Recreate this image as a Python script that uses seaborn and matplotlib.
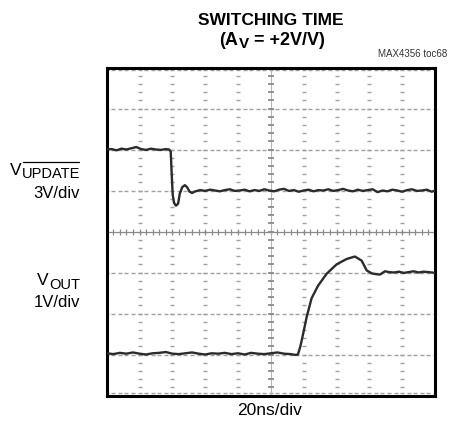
import matplotlib
matplotlib.use("Agg")
import matplotlib.pyplot as plt
from matplotlib import font_manager
from matplotlib.transforms import IdentityTransform
from matplotlib.lines import Line2D
import numpy as np
import pandas as pd
import seaborn as sns

# ---- scope traces: time in ns, level in screen divisions (0 = bottom) ----
t_update = [0, 3, 6, 9, 12, 15, 18, 21, 24, 27, 30, 33, 36, 38,
            39, 39.6, 40.2, 41, 42.2, 43.5, 44.5, 46, 47.6, 49, 50.5, 52,
            54, 57, 60, 63, 66, 69, 72, 75, 78, 81, 84, 87, 90, 93, 96, 99,
            102, 105, 108, 111, 114, 117, 120, 123, 126, 129, 132, 135, 138,
            141, 144, 147, 150, 153, 156, 159, 162, 165, 168, 171, 174, 177,
            180, 183, 186, 189, 192, 195, 198, 200]
v_update = [6.00, 6.01, 5.98, 6.02, 6.00, 6.03, 6.06, 6.01, 5.99, 6.02, 6.00, 5.99, 6.01, 6.00,
            5.95, 5.40, 4.90, 4.70, 4.63, 4.68, 4.92, 5.08, 5.13, 5.08, 4.97, 4.94,
            4.98, 5.01, 4.99, 5.02, 5.00, 4.98, 5.01, 5.03, 4.99, 5.00, 5.02, 4.98, 5.01, 4.99, 5.03, 5.00,
            4.98, 5.02, 5.04, 4.99, 5.01, 4.97, 5.00, 5.02, 4.98, 5.01, 5.00, 5.03, 4.99,
            5.01, 5.04, 5.00, 4.98, 5.02, 4.99, 5.01, 5.03, 4.96, 5.00, 4.98, 5.02, 5.00,
            4.97, 5.01, 5.03, 4.99, 5.00, 5.02, 4.97, 5.00]

t_out = [0, 4, 8, 12, 16, 20, 24, 28, 32, 36, 40, 44, 48, 52, 56, 60, 64, 68, 72,
         76, 80, 84, 88, 92, 96, 100, 104, 108, 112, 115, 116.5,
         118, 119.7, 121.8, 124.8, 128.8, 134, 140.1, 146.2, 151.2, 155.3, 158.4,
         161.4, 164, 166.5, 169.5, 172, 175, 178, 181, 184, 187, 190, 193, 196, 200]
v_out = [1.03, 1.01, 1.04, 1.02, 1.05, 1.02, 1.00, 1.03, 1.04, 1.06, 1.02, 1.01, 1.03, 1.05,
         1.02, 1.00, 1.03, 1.02, 1.04, 1.01, 1.03, 1.00, 1.04, 1.02, 1.01, 1.03, 1.05, 1.02,
         1.01, 0.99, 1.00,
         1.20, 1.51, 1.91, 2.37, 2.68, 2.97, 3.20, 3.33, 3.39, 3.29, 3.05,
         2.98, 2.96, 2.95, 3.03, 3.01, 3.00, 3.02, 2.99, 3.01, 3.03, 3.00, 3.02, 3.01, 2.99]

X_DIVS = [0, 20, 40, 60, 80, 100, 120, 140, 160, 180, 200]
Y_DIVS = [0, 1, 2, 3, 4, 5, 6, 7, 8]

sns.set_style("white")
available = {f.name for f in font_manager.fontManager.ttflist}
narrow = "Liberation Sans Narrow" if "Liberation Sans Narrow" in available else "Liberation Sans"
plt.rcParams["font.family"] = [narrow, "DejaVu Sans"]

W, H = 452, 429
fig = plt.figure(figsize=(W / 100, H / 100), dpi=100)
ax = fig.add_axes([106.7 / W, 1 - 395.5 / H, 328.3 / W, 328 / H])
ax.set_xlim(X_DIVS[0], X_DIVS[-1])
ax.set_ylim(Y_DIVS[0], Y_DIVS[-1])

# graticule: dotted division lines, ticked centre axes
minor_x = np.linspace(X_DIVS[0], X_DIVS[-1], 51)
minor_y = np.linspace(Y_DIVS[0], Y_DIVS[-1], 41)
grid_col = "#a0a0a0"
for gy in Y_DIVS[1:-1]:
    if gy == 4:
        continue
    ax.plot(minor_x, np.full_like(minor_x, gy), ls="none", marker="_", ms=2.6,
            mew=1.0, color=grid_col, zorder=1)
for gy in (0.07, 7.93):
    ax.plot(minor_x, np.full_like(minor_x, gy), ls="none", marker="_", ms=2.6,
            mew=1.0, color=grid_col, zorder=1)
for gx in X_DIVS[1:-1]:
    if gx == 100:
        continue
    ax.plot(np.full_like(minor_y, gx), minor_y, ls="none", marker="_", ms=2.6,
            mew=1.0, color=grid_col, zorder=1)
ax.axhline(4, color="#8a8a8a", lw=0.9, zorder=1)
ax.plot(minor_x, np.full_like(minor_x, 4), ls="none", marker="|", ms=4.5,
        mew=0.9, color="#8a8a8a", zorder=1)
ax.axvline(100, color="#b5b5b5", lw=0.8, zorder=1)
ax.plot(np.full_like(minor_y, 100), minor_y, ls="none", marker="_", ms=5,
        mew=1.3, color="#8a8a8a", zorder=1)

traces = pd.concat([
    pd.DataFrame({"t": t_update, "v": v_update, "ch": "update"}),
    pd.DataFrame({"t": t_out, "v": v_out, "ch": "out"}),
])
for ch, d in traces.groupby("ch"):
    sns.lineplot(data=d, x="t", y="v", ax=ax, color="#2b2b2b", lw=1.7,
                 estimator=None, sort=False, zorder=3)

ax.set_xticks([])
ax.set_yticks([])
ax.set_xlabel("")
ax.set_ylabel("")
for s in ax.spines.values():
    s.set_visible(True)
    s.set_linewidth(2.2)
    s.set_color("black")

renderer = fig.canvas.get_renderer()
ident = IdentityTransform()


def text_row(parts, x, y, ha="center", family=None, color="black"):
    """Lay out text pieces on one baseline; y is measured from the top in px."""
    objs = []
    for s, size, weight, dy, over in parts:
        kw = {} if family is None else {"family": family}
        t = fig.text(0, 0, s, fontsize=size, fontweight=weight, va="baseline",
                     ha="left", transform=ident, color=color, **kw)
        objs.append((t, dy, over))
    widths = [t.get_window_extent(renderer).width for t, _, _ in objs]
    total = sum(widths)
    x0 = {"center": x - total / 2, "right": x - total, "left": x}[ha]
    for (t, dy, over), w in zip(objs, widths):
        t.set_position((x0, H - (y + dy)))
        if over is not None:
            fig.add_artist(Line2D([x0 + 1, x0 + w - 1], [H - over, H - over],
                                  transform=ident, color=color, lw=0.9))
        x0 += w


text_row([("SWITCHING TIME", 12.5, "bold", 0, None)], 271, 25)
text_row([("(A", 13, "bold", 0, None), ("V", 11, "bold", 3, None),
          (" = +2V/V)", 13, "bold", 0, None)], 272, 45)
text_row([("MAX4356 toc68", 7, "normal", 0, None)], 447, 57, ha="right",
         family="Liberation Sans", color="#333333")
text_row([("V", 12.5, "normal", 0, None), ("UPDATE", 10.5, "normal", 3, 162)], 80, 175, ha="right")
text_row([("3V/div", 12, "normal", 0, None)], 80, 198, ha="right")
text_row([("V", 12.5, "normal", 0, None), ("OUT", 10.5, "normal", 4, None)], 80, 285, ha="right")
text_row([("1V/div", 12, "normal", 0, None)], 80, 307, ha="right")
text_row([("20ns/div", 12.5, "normal", 0, None)], 270, 415)

fig.savefig("out.png", dpi=100)
